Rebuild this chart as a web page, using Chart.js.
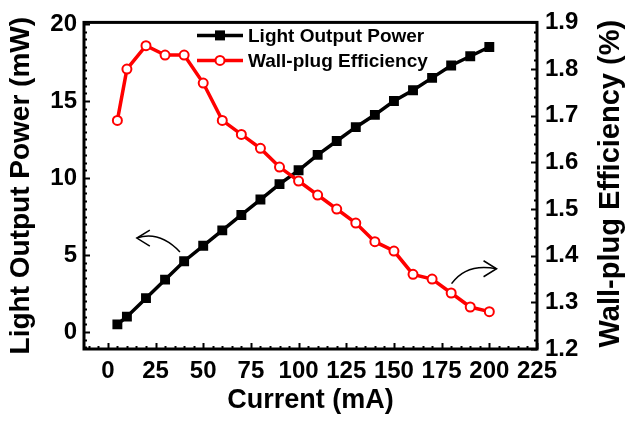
<!DOCTYPE html>
<html lang="en">
<head>
<meta charset="UTF-8">
<title>Light Output Power / Wall-plug Efficiency</title>
<script src="https://cdn.jsdelivr.net/npm/chart.js"></script>
<style>
  html, body { margin: 0; padding: 0; background: #fff; }
</style>
</head>
<body>
<canvas id="ivChart" width="635" height="421"></canvas>
<script>
// current (mA)
const current = [5, 10, 20, 30, 40, 50, 60, 70, 80, 90, 100, 110, 120, 130, 140, 150, 160, 170, 180, 190, 200];
// light output power (mW)
const power = [0.5, 1.0, 2.2, 3.4, 4.6, 5.6, 6.6, 7.6, 8.6, 9.6, 10.5, 11.5, 12.4, 13.3, 14.1, 15.0, 15.7, 16.5, 17.3, 17.9, 18.5];
// wall-plug efficiency (%)
const efficiency = [1.69, 1.80, 1.85, 1.83, 1.83, 1.77, 1.69, 1.66, 1.63, 1.59, 1.56, 1.53, 1.50, 1.47, 1.43, 1.41, 1.36, 1.35, 1.32, 1.29, 1.28];

const xTicks = [0, 25, 50, 75, 100, 125, 150, 175, 200, 225];
const powerTicks = [0, 5, 10, 15, 20];
const effTicks = [1.2, 1.3, 1.4, 1.5, 1.6, 1.7, 1.8, 1.9];

const FONT = "'Liberation Sans', Arial, sans-serif";
const RED = '#ff0000';

function pts(xs, ys) {
  return xs.map((x, i) => ({ x: x, y: ys[i] }));
}

// frame + inward ticks, like the origin plot
const framePlugin = {
  id: 'frame',
  afterDraw(chart) {
    const ctx = chart.ctx;
    const a = chart.chartArea;
    const sx = chart.scales.x, sl = chart.scales.yPower, sr = chart.scales.yEff;
    ctx.save();
    ctx.strokeStyle = '#000';
    ctx.lineWidth = 2;
    // x ticks every 5, major every 25
    for (let v = -10; v <= 225; v += 5) {
      const px = Math.round(sx.getPixelForValue(v)) + 0.5;
      const len = v % 25 === 0 ? 6 : 3;
      ctx.beginPath(); ctx.moveTo(px, a.bottom); ctx.lineTo(px, a.bottom - len); ctx.stroke();
    }
    // left ticks every 0.5, major every 5
    for (let k = -2; k <= 40; k++) {
      const py = Math.round(sl.getPixelForValue(k / 2)) + 0.5;
      const len = k % 10 === 0 ? 6 : 3;
      ctx.beginPath(); ctx.moveTo(a.left, py); ctx.lineTo(a.left + len, py); ctx.stroke();
    }
    // right ticks every 0.02, major every 0.1
    for (let k = 60; k <= 95; k++) {
      const py = Math.round(sr.getPixelForValue(k / 50)) + 0.5;
      const len = k % 5 === 0 ? 6 : 3;
      ctx.beginPath(); ctx.moveTo(a.right, py); ctx.lineTo(a.right - len, py); ctx.stroke();
    }
    ctx.lineWidth = 3;
    ctx.strokeRect(a.left, a.top, a.right - a.left, a.bottom - a.top);

    // right axis title, reading bottom to top
    ctx.fillStyle = '#000';
    ctx.font = 'bold 29px ' + FONT;
    ctx.textAlign = 'center';
    ctx.textBaseline = 'middle';
    ctx.translate(sr.right - 24, (a.top + a.bottom) / 2 - 2);
    ctx.rotate(-Math.PI / 2);
    ctx.fillText('Wall-plug Efficiency (%)', 0, 0);
    ctx.restore();
  }
};

// curved arrows pointing at each axis
const arrowPlugin = {
  id: 'arrows',
  afterDatasetsDraw(chart) {
    const ctx = chart.ctx;
    const sx = chart.scales.x, sl = chart.scales.yPower, sr = chart.scales.yEff;
    function arrow(p0, c, p1, dir) {
      ctx.beginPath();
      ctx.moveTo(p0[0], p0[1]);
      ctx.quadraticCurveTo(c[0], c[1], p1[0], p1[1]);
      ctx.stroke();
      ctx.beginPath();
      ctx.moveTo(p1[0] - dir * 13, p1[1] - 8);
      ctx.lineTo(p1[0], p1[1]);
      ctx.lineTo(p1[0] - dir * 13, p1[1] + 8);
      ctx.stroke();
    }
    ctx.save();
    ctx.strokeStyle = '#000';
    ctx.lineWidth = 1.5;
    arrow([sx.getPixelForValue(37.8), sl.getPixelForValue(5.2)],
          [sx.getPixelForValue(27), sl.getPixelForValue(6.6)],
          [sx.getPixelForValue(15.2), sl.getPixelForValue(6.1)], -1);
    arrow([sx.getPixelForValue(180.2), sr.getPixelForValue(1.34)],
          [sx.getPixelForValue(188), sr.getPixelForValue(1.385)],
          [sx.getPixelForValue(203.8), sr.getPixelForValue(1.372)], 1);
    ctx.restore();
  }
};

// legend inside the plot, top left
const legendPlugin = {
  id: 'innerLegend',
  afterDraw(chart) {
    const ctx = chart.ctx;
    const a = chart.chartArea;
    const rows = [chart.data.datasets[1], chart.data.datasets[0]];
    ctx.save();
    rows.forEach((ds, i) => {
      const y = a.top + 13 + i * 25;
      const x0 = a.left + 113, x1 = a.left + 159;
      ctx.strokeStyle = ds.borderColor;
      ctx.lineWidth = 3.5;
      ctx.beginPath(); ctx.moveTo(x0, y); ctx.lineTo(x1, y); ctx.stroke();
      const mx = (x0 + x1) / 2;
      if (ds.pointStyle === 'rect') {
        ctx.fillStyle = ds.borderColor;
        ctx.fillRect(mx - 5, y - 5, 10, 10);
      } else {
        ctx.fillStyle = '#fff';
        ctx.lineWidth = 2;
        ctx.beginPath(); ctx.arc(mx, y, 4.5, 0, Math.PI * 2); ctx.fill(); ctx.stroke();
      }
      ctx.fillStyle = '#000';
      ctx.font = 'bold 19px ' + FONT;
      ctx.textAlign = 'left';
      ctx.textBaseline = 'middle';
      ctx.fillText(ds.label, x1 + 5, y + 1);
    });
    ctx.restore();
  }
};

const tickFont = { family: FONT, size: 24, weight: 'bold' };
const titleFont = { family: FONT, size: 27, weight: 'bold' };

new Chart(document.getElementById('ivChart').getContext('2d'), {
  type: 'scatter',
  data: {
    datasets: [
      {
        label: 'Wall-plug Efficiency',
        data: pts(current, efficiency),
        yAxisID: 'yEff',
        showLine: true,
        borderColor: RED,
        borderWidth: 3.5,
        pointStyle: 'circle',
        pointRadius: 4.5,
        pointBorderWidth: 2,
        pointBackgroundColor: '#fff',
        pointBorderColor: RED
      },
      {
        label: 'Light Output Power',
        data: pts(current, power),
        yAxisID: 'yPower',
        showLine: true,
        borderColor: '#000',
        borderWidth: 3.5,
        pointStyle: 'rect',
        pointRadius: 7,
        pointBackgroundColor: '#000',
        pointBorderColor: '#000',
        pointBorderWidth: 0
      }
    ]
  },
  options: {
    responsive: false,
    animation: false,
    layout: { padding: { top: 20, left: 0, right: 0, bottom: 0 } },
    plugins: { legend: { display: false }, tooltip: { enabled: false } },
    scales: {
      x: {
        type: 'linear',
        min: -12.5,
        max: 225,
        afterBuildTicks: s => { s.ticks = xTicks.map(v => ({ value: v })); },
        afterFit: s => { s.height = 72; },
        grid: { display: false, drawTicks: false },
        border: { display: false },
        ticks: { font: tickFont, color: '#000', padding: 8, maxRotation: 0, autoSkip: false },
        title: { display: true, text: 'Current (mA)', font: titleFont, color: '#000', padding: { top: 0, bottom: 4 } }
      },
      yPower: {
        type: 'linear',
        position: 'left',
        min: -1.1,
        max: 20.1,
        afterBuildTicks: s => { s.ticks = powerTicks.map(v => ({ value: v })); },
        afterFit: s => { s.width = 84; },
        grid: { display: false, drawTicks: false },
        border: { display: false },
        ticks: { font: tickFont, color: '#000', padding: 7 },
        title: { display: true, text: 'Light Output Power (mW)', font: { family: FONT, size: 28, weight: 'bold' }, color: '#000', padding: { top: 4, bottom: 0 } }
      },
      yEff: {
        type: 'linear',
        position: 'right',
        min: 1.2,
        max: 1.9,
        afterBuildTicks: s => { s.ticks = effTicks.map(v => ({ value: v })); },
        afterFit: s => { s.width = 98; },
        grid: { display: false, drawTicks: false },
        border: { display: false },
        ticks: { font: tickFont, color: '#000', padding: 8, callback: v => v.toFixed(1) }
      }
    }
  },
  plugins: [framePlugin, arrowPlugin, legendPlugin]
});
</script>
</body>
</html>
